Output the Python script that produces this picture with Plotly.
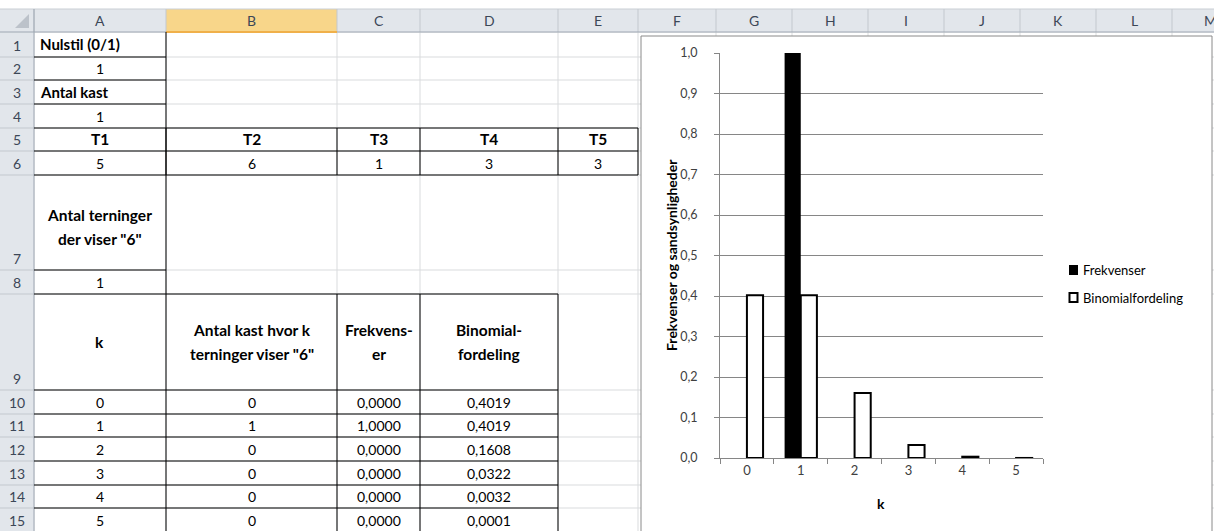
import plotly.graph_objects as go

# ---- worksheet values ----
nulstil = 1
antal_kast = 1
terning_navne = ["T1", "T2", "T3", "T4", "T5"]
terning_kast = [5, 6, 1, 3, 3]
antal_seksere = 1
k_values = [0, 1, 2, 3, 4, 5]
kast_med_k = [0, 1, 0, 0, 0, 0]
frekvenser = [0.0, 1.0, 0.0, 0.0, 0.0, 0.0]
binomial = [0.4019, 0.4019, 0.1608, 0.0322, 0.0032, 0.0001]
col_letters = ["A", "B", "C", "D", "E", "F", "G", "H", "I", "J", "K", "L", "M"]

W, H = 1214, 531
FONT = "Lato"


def X(p):
    return p / W


def Y(p):
    return 1 - p / H


def comma(v, nd):
    return f"{v:.{nd}f}".replace(".", ",")


# sheet geometry in pixels
col_edges = [34, 166, 337, 420, 558, 638, 716, 792, 868, 944, 1020, 1096, 1172, 1248]
row_edges = [32, 57, 80, 104, 128, 151, 175, 270, 294, 390, 414, 437, 461, 485, 508, 532]
HEAD_TOP = 9

shapes = []
annotations = []


def line(x0, y0, x1, y1, color, width=1):
    shapes.append(dict(type="line", xref="paper", yref="paper",
                       x0=X(x0), y0=Y(y0), x1=X(x1), y1=Y(y1),
                       line=dict(color=color, width=width), layer="below"))


def rect(x0, y0, x1, y1, fill, lcolor=None, lwidth=0):
    shapes.append(dict(type="rect", xref="paper", yref="paper",
                       x0=X(x0), y0=Y(y0), x1=X(x1), y1=Y(y1),
                       fillcolor=fill,
                       line=dict(color=lcolor or fill, width=lwidth),
                       layer="below"))


def text(x, y, s, bold=False, anchor="center", size=None, color="#000000"):
    if size is None:
        size = 15.5 if bold else 14
    annotations.append(dict(xref="paper", yref="paper", x=X(x), y=Y(y),
                            text=f"<b>{s}</b>" if bold else s,
                            showarrow=False, xanchor=anchor, yanchor="middle",
                            font=dict(family=FONT, size=size, color=color)))


# cell gridlines
GRID = "#D9DBDD"
for cx in col_edges:
    line(cx, row_edges[0], cx, H, GRID)
for ry in row_edges:
    line(col_edges[0], ry, W, ry, GRID)

# column and row headers
HEAD_BG = "#E2E6EB"
HEAD_SEP = "#C3C8CE"
HEAD_EDGE = "#9EA7B2"
HEAD_TXT = "#3C4757"
rect(0, HEAD_TOP, W, row_edges[0], HEAD_BG)
rect(col_edges[1], HEAD_TOP, col_edges[2], row_edges[0], "#F8D68A")
rect(0, row_edges[0], col_edges[0], H, HEAD_BG)
line(0, HEAD_TOP, W, HEAD_TOP, "#C9CED4")
for cx in col_edges:
    line(cx, HEAD_TOP, cx, row_edges[0], HEAD_SEP)
for ry in row_edges[1:]:
    line(0, ry, col_edges[0], ry, HEAD_SEP)
line(0, row_edges[0], W, row_edges[0], HEAD_EDGE)
line(col_edges[1], row_edges[0], col_edges[2], row_edges[0], "#F0B04A", 2)
line(col_edges[0], HEAD_TOP, col_edges[0], H, HEAD_EDGE)
shapes.append(dict(type="path", xref="paper", yref="paper",
                   path=f"M {X(15)} {Y(28)} L {X(29)} {Y(28)} L {X(29)} {Y(14)} Z",
                   fillcolor="#BCC2CA", line=dict(width=0), layer="below"))

for i, letter in enumerate(col_letters):
    text((col_edges[i] + col_edges[i + 1]) / 2, 20.5, letter, size=14, color=HEAD_TXT)
for r in range(1, len(row_edges)):
    text(col_edges[0] / 2, row_edges[r] - 12, str(r), size=14, color=HEAD_TXT)

# cell borders
BLK = "#000000"
A0, A1 = col_edges[0], col_edges[1]
for ry in [57, 80, 104, 270]:
    line(A0, ry, A1, ry, BLK)
line(A1, 32, A1, 294, BLK)
for ry in [128, 151, 175]:
    line(A0, ry, col_edges[5], ry, BLK)
for cx in col_edges[1:6]:
    line(cx, 128, cx, 175, BLK)
for ry in row_edges[8:]:
    line(A0, ry, col_edges[4], ry, BLK)
for cx in col_edges[1:5]:
    line(cx, 294, cx, 532, BLK)

centers = [(col_edges[i] + col_edges[i + 1]) / 2 for i in range(5)]


def mid(r):
    return (row_edges[r - 1] + row_edges[r]) / 2


text(38, mid(1), "Nulstil (0/1)", bold=True, anchor="left", size=15)
text(centers[0], mid(2), str(nulstil))
text(38, mid(3), "Antal kast", bold=True, anchor="left", size=15)
text(centers[0], mid(4), str(antal_kast))
for i in range(5):
    text(centers[i], mid(5), terning_navne[i], bold=True)
    text(centers[i], mid(6), str(terning_kast[i]))
text(centers[0], mid(7) - 8, "Antal terninger", bold=True)
text(centers[0], mid(7) + 16, 'der viser "6"', bold=True)
text(centers[0], mid(8), str(antal_seksere))
text(centers[0], mid(9), "k", bold=True)
text(centers[1], mid(9) - 12, "Antal kast hvor k", bold=True)
text(centers[1], mid(9) + 12, 'terninger viser "6"', bold=True)
text(centers[2], mid(9) - 12, "Frekvens-", bold=True)
text(centers[2], mid(9) + 12, "er", bold=True)
text(centers[3], mid(9) - 12, "Binomial-", bold=True)
text(centers[3], mid(9) + 12, "fordeling", bold=True)
for j, k in enumerate(k_values):
    r = 10 + j
    text(centers[0], mid(r), str(k))
    text(centers[1], mid(r), str(kast_med_k[j]))
    text(centers[2], mid(r), comma(frekvenser[j], 4))
    text(centers[3], mid(r), comma(binomial[j], 4))

# chart area
rect(641, 36, 1212, 545, "#FFFFFF", "#8A8A8A", 1)

# legend
rect(1069, 265, 1078, 275, "#000000")
rect(1069.5, 293, 1077.5, 302, "#FFFFFF", "#000000", 2)
text(1081, 270, "Frekvenser", anchor="left", size=13, color="#000000")
text(1081, 298, "Binomialfordeling", anchor="left", size=13, color="#000000")

# axis titles
text(671, 255, "Frekvenser og sandsynligheder", bold=True, size=14)
annotations[-1]["textangle"] = -90
text(881, 503, "k", bold=True, size=14)

cats = [str(k) for k in k_values]
fig = go.Figure()
fig.add_trace(go.Bar(name="Frekvenser", x=cats, y=frekvenser,
                     marker=dict(color="#000000", line=dict(width=0)),
                     showlegend=False))
fig.add_trace(go.Bar(name="Binomialfordeling", x=cats, y=binomial,
                     marker=dict(color="#FFFFFF", line=dict(color="#000000", width=2)),
                     showlegend=False))

AX = "#868686"
fig.update_layout(
    width=W, height=H, autosize=False,
    margin=dict(l=0, r=0, t=0, b=0, pad=0, autoexpand=False),
    paper_bgcolor="#FFFFFF",
    plot_bgcolor="rgba(0,0,0,0)",
    separators=",.",
    barmode="group", bargap=0.4, bargroupgap=0,
    shapes=shapes, annotations=annotations,
    font=dict(family=FONT, color="#404040"),
    xaxis=dict(domain=[X(720), X(1043)], type="category",
               categoryorder="array", categoryarray=cats,
               tickson="boundaries", ticks="outside", ticklen=5,
               tickcolor=AX, showline=True, linecolor=AX,
               showgrid=False, zeroline=False, automargin=False,
               tickfont=dict(family=FONT, size=13, color="#404040")),
    yaxis=dict(domain=[Y(458), Y(53)], range=[0, 1], dtick=0.1,
               tickformat=".1f", ticks="outside", ticklen=5, tickcolor=AX,
               showline=True, linecolor=AX, showgrid=True, gridcolor=AX,
               zeroline=False, ticklabelstandoff=14, automargin=False,
               tickfont=dict(family=FONT, size=12.5, color="#404040")),
)

fig.write_html("out.html")
